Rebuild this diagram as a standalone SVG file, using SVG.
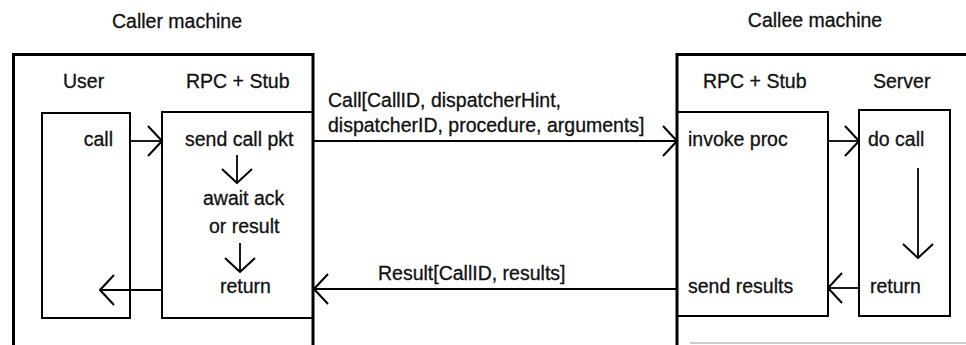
<svg xmlns="http://www.w3.org/2000/svg" width="966" height="345" viewBox="0 0 966 345">
<defs>
<marker id="v" viewBox="0 0 16 32" refX="15" refY="16" markerWidth="16" markerHeight="32" markerUnits="userSpaceOnUse" orient="auto">
<path d="M1,1 L15,16 L1,31" fill="none" stroke="#000" stroke-width="2"/>
</marker>
<style>
text{font-family:"Liberation Sans",Arial,sans-serif;font-size:19.5px;fill:#111;stroke:#111;stroke-width:0.3}
.frame{fill:none;stroke:#000;stroke-width:3}
.box{fill:none;stroke:#000;stroke-width:2}
.c line{stroke:#000;stroke-width:1.8;marker-end:url(#v)}
</style>
</defs>
<rect width="966" height="345" fill="#fff"/>
<g id="caller">
<path class="frame" d="M13.5,345 V54.5 H313 V345"/>
<text x="177" y="28" text-anchor="middle">Caller machine</text>
</g>
<g id="user">
<rect class="box" x="42" y="113" width="88" height="205"/>
<text x="63" y="88">User</text>
<text x="113" y="146" text-anchor="end">call</text>
</g>
<g id="caller-rpc">
<rect class="box" x="162" y="112" width="151" height="206"/>
<text x="186" y="88">RPC + Stub</text>
<text x="185" y="146">send call pkt</text>
<text x="203" y="205">await ack</text>
<text x="209" y="233">or result</text>
<text x="220" y="293">return</text>
</g>
<g id="callee">
<path class="frame" d="M677,345 V54.5 H966"/>
<line x1="690" y1="343" x2="966" y2="343" stroke="#bbb" stroke-width="1.5"/>
<text x="815" y="27" text-anchor="middle">Callee machine</text>
</g>
<g id="callee-rpc">
<rect class="box" x="677" y="112" width="151" height="204"/>
<text x="703" y="88">RPC + Stub</text>
<text x="688" y="146">invoke proc</text>
<text x="688" y="293">send results</text>
</g>
<g id="server">
<rect class="box" x="859" y="110" width="91" height="206"/>
<text x="873" y="88">Server</text>
<text x="868" y="146">do call</text>
<text x="870" y="293">return</text>
</g>
<g id="connectors" class="c">
<line x1="130" y1="141" x2="162" y2="141"/>
<line x1="237" y1="155" x2="237" y2="183"/>
<line x1="240" y1="243" x2="240" y2="272"/>
<line x1="162" y1="290" x2="100" y2="290"/>
<line x1="313" y1="141" x2="677" y2="141"/>
<line x1="677" y1="289" x2="314" y2="289"/>
<line x1="828" y1="141" x2="859" y2="141"/>
<line x1="918" y1="168" x2="918" y2="258"/>
<line x1="859" y1="288" x2="828" y2="288"/>
</g>
<g id="labels">
<text x="328" y="107">Call[CallID, dispatcherHint,</text>
<text x="328" y="132">dispatcherID, procedure, arguments]</text>
<text x="378" y="280">Result[CallID, results]</text>
</g>
</svg>
